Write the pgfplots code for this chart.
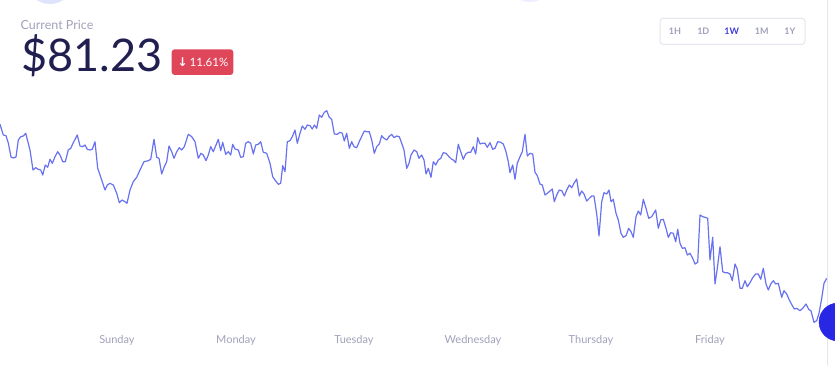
\documentclass[border=0pt]{standalone}
\usepackage{pgfplots}
\pgfplotsset{compat=1.18}
\usepackage{fontspec}
\setmainfont{Lato}
\newfontfamily\dejavu{DejaVu Sans}
\definecolor{linec}{RGB}{104,114,240}
\definecolor{graytxt}{RGB}{160,160,186}
\definecolor{navy}{RGB}{33,30,80}
\definecolor{badge}{RGB}{224,70,90}
\definecolor{btnblue}{RGB}{60,60,215}
\definecolor{btnborder}{RGB}{228,230,238}
\definecolor{bubble}{RGB}{223,227,251}
\definecolor{dot}{RGB}{40,40,228}
\tikzset{
  btn/.style={text=graytxt, font=\fontsize{9}{9}\selectfont\bfseries, inner sep=0pt},
  day/.style={text=graytxt, font=\fontsize{11}{11}\selectfont, inner sep=0pt},
}
\pgfplotstableread{
x y
0 124.3
3.3 135
6 135.7
8.3 143
11 157
13.3 158
16 157
18.3 140
20.7 136.7
23.3 136
25.7 133.3
30 150
33 170
35.7 167.7
38.3 169.3
40.7 170
42.7 175
45.3 165
47.7 167.3
50 159.3
52.3 163.3
55 156.7
57.7 151.7
60 155
62.7 161.7
65.3 161.7
68.3 150
70.7 148.3
73.3 142.7
77.3 135
80 146
82.7 146.7
85 145
87.3 149.3
90 150
92.3 149.3
95 141.7
97.7 168.3
101.7 180
105 190
107.3 185
110 183.3
113.3 185
116.7 193.3
119.3 202.7
122 200
125 201.7
127 203.3
130 190
133.3 181.7
136.7 177.3
140 170
144 161.7
148.3 160.7
150.7 159.3
154 139.3
156.7 157.3
159 158.3
161.7 174
164.3 166.7
166.7 161.7
169 146
171.7 151.7
174 158.3
176.7 151.7
179.3 147.7
181.7 150
184.3 146.7
188.3 134.3
191.7 136.7
195 141.7
198.3 158.3
201 153.3
203.3 155
206 160.7
208.3 155
210.7 146.7
213.3 151.7
218.3 139.3
220.7 150.7
222.7 142.3
225.7 154.3
228.3 151.7
230.7 155
232.7 144.3
235 149
238.3 150
240.7 157.3
243.3 156.7
245.7 143.3
248.3 141.7
250.7 143.3
253.3 154
255.7 145
258.3 144.3
260.7 141.7
263.3 152.3
266.7 153.3
270 163.3
272.7 176.7
275 180
278.3 184.3
280.7 183.3
282.7 165.7
285 171.7
287.3 141.7
290 140.7
292.3 136.7
295 130
297.3 143.3
300 133.3
302.3 126
305 129.3
307.3 125
310 125.7
312.3 129
314.3 125
316.7 128.3
319.3 115
321.7 117.3
324.3 112.3
326.7 110.7
329.3 117.3
331.7 119.3
334.3 134
337.3 134.3
340 132.3
342.3 133.3
344.3 141
346.7 133.3
349.3 148.3
351.7 141.7
354 146.7
356.7 147.7
360 140
364.3 131
366.7 131.7
369.3 131.7
371.7 140
374.3 153.3
376.7 146.7
379.3 144
381.7 135.7
384 138.3
386.7 140
389 136.7
391.7 134.3
394 137.7
396.7 136
399.3 136.7
401.7 143.3
404 150
406.7 168.3
409 163.3
411 155
414 150
416.7 151.7
419 158.3
421.7 155
424 160
426 174
428.3 168.3
431 177.3
433.3 161.7
435.7 165
438.3 160
440.7 158.3
443.3 152.7
446 153.3
449 156.7
451.7 159.3
453.3 160
455.7 162.7
458.3 144.3
460.7 151.7
463.3 159.3
465.7 154
468.3 152.3
470.7 152.3
473.3 146.7
475.7 154
477.7 137.7
480 144
482.3 143.3
485 143.3
487.3 147.3
490 142.7
492.7 149.3
495 148.3
497.7 141.7
500.7 142.3
503.3 144
506 151.7
508.3 161.7
510 172.7
512.7 165
515 179.3
517.3 163.3
520 156.7
522.3 151.7
525 134.3
527.3 156
530 153.3
532.7 154
535 172.3
537.3 175.7
540 184
542.3 185
545 195
547.3 193.3
550 191
552.3 189
554.3 201.7
556.7 195
559.3 190
561.7 190.7
564.3 196
566.7 190
569.3 185
571.7 187.7
574 183.3
576.7 179
579.3 196
581.7 191
584 194
586.7 201
589.3 198.3
591.7 196
594 196
596.7 214
599 236
601.7 201.7
604 192.7
606.7 194
609 190
611 201.7
613.3 199.3
616 213.3
618.3 220
621 233.3
623.3 237.3
626 235.7
628.7 228.3
631 231.7
633.3 237.3
636 216.7
638.3 211
640.7 215
643.3 199.3
646 208.3
648.7 218.3
651.7 216.7
655.7 210
658.3 228.3
660.7 220
663.3 219.3
666 228.3
668.3 237.3
670.7 232.7
673.3 233.3
675.7 241.7
677.7 229.3
680 243.3
682.3 248.3
685 247.7
687.3 255
690 253.3
692.7 258.3
695 264
697.7 262.3
700 215
702.7 216.7
705 217.3
707.7 218.3
710 260
712.7 237.3
715 284
717.3 268.3
720 246.7
722.7 271.7
725 272.7
727.3 272.7
730 274
732.3 280.7
735 264
737.3 269.3
740 288.3
742.3 288.3
745 280.7
747.3 286.7
750 282.7
752.7 277.7
755.7 274
758.3 274
760.7 279.3
763.3 268.3
766 284
768.3 290
770.7 284
773.3 280.7
775.7 284
778.3 283.3
781.7 297.3
784 290.7
786.7 294
789.3 300
792 305
794.3 309
796.7 308.3
800 310.7
802.7 308.3
806 304
808.7 309.3
811 311
814 322.3
816.7 320.7
819 313.3
821.7 298.3
824 283.3
826.7 278.3
}\pricedata
\begin{document}
\begin{tikzpicture}
\useasboundingbox (0,0) rectangle (835pt,366pt);
\begin{axis}[
  at={(0,0)}, anchor=south west,
  width=835pt, height=366pt, scale only axis,
  xmin=0, xmax=835, ymin=0, ymax=366, y dir=reverse,
  hide axis, clip=false,
]
% decorative background bubbles
\begin{scope}
\clip (axis cs:0,0) rectangle (axis cs:835,366);
\fill[bubble] (axis cs:50,-20) circle[radius=24pt];
\fill[bubble!60] (axis cs:530,-22) circle[radius=24pt];
\end{scope}
% hover guide
\draw[btnborder, line width=1pt] (axis cs:827,0) -- (axis cs:827,366);
% header
\node[anchor=base west, text=graytxt, font=\fontsize{12.5}{13}\selectfont, inner sep=0pt] at (axis cs:20.5,29.3) {Current Price};
\node[anchor=base west, text=navy, font=\fontsize{45}{45}\selectfont, inner sep=0pt] at (axis cs:21,72) {\$81.23};
\fill[badge, rounded corners=3pt] (axis cs:171.7,49.3) rectangle (axis cs:233.3,75);
\node[anchor=base west, text=white, font=\fontsize{11.5}{12}\selectfont, inner sep=0pt] at (axis cs:177.5,66.8) {{\dejavu\bfseries\fontsize{12}{12}\selectfont ↓}\,11.61\%};
% range buttons
\draw[btnborder, rounded corners=3pt, line width=1pt, fill=white] (axis cs:660,18.3) rectangle (axis cs:805,44.3);
\node[btn] at (axis cs:675,31.5) {1H};
\node[btn] at (axis cs:703.3,31.5) {1D};
\node[btn, text=btnblue] at (axis cs:731.7,31.5) {1W};
\node[btn] at (axis cs:761.7,31.5) {1M};
\node[btn] at (axis cs:790,31.5) {1Y};
% day labels
\node[day] at (axis cs:117,340) {Sunday};
\node[day] at (axis cs:236,340) {Monday};
\node[day] at (axis cs:354,340) {Tuesday};
\node[day] at (axis cs:473,340) {Wednesday};
\node[day] at (axis cs:591,340) {Thursday};
\node[day] at (axis cs:710,340) {Friday};
% price line
\addplot[linec, line width=1.2pt, line join=round, no marks] table[x=x,y=y] {\pricedata};
% hover dot
\addplot[only marks, mark=*, mark size=19pt, mark options={fill=dot, draw=dot}] coordinates {(838,322)};
\end{axis}
\end{tikzpicture}
\end{document}
